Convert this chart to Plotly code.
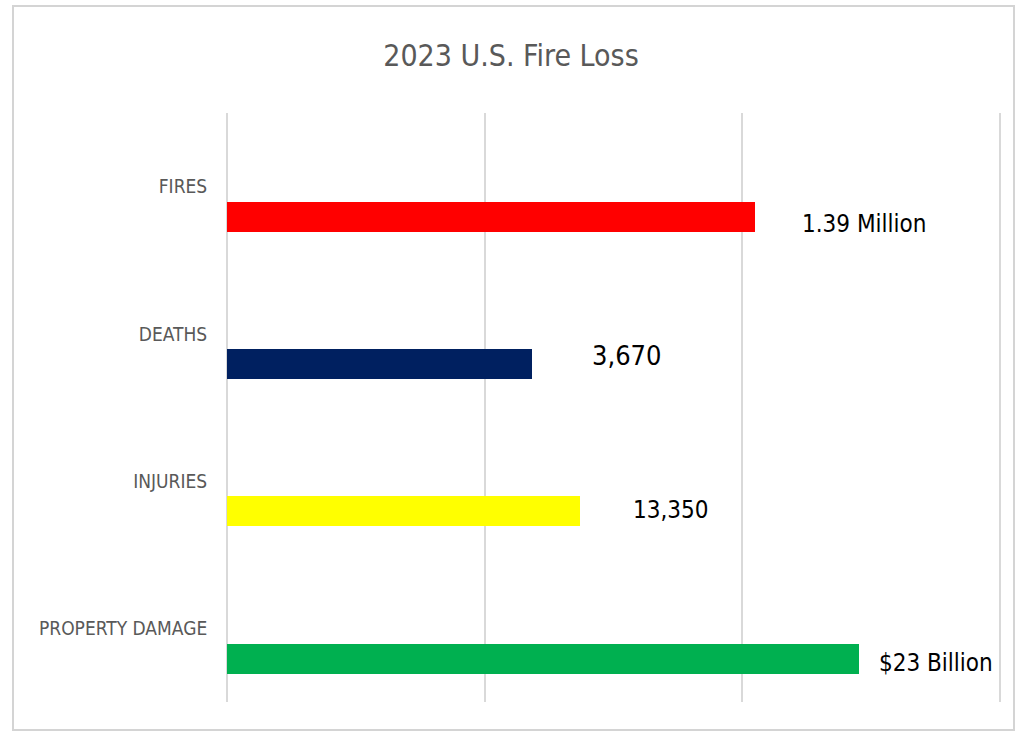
import plotly.graph_objects as go

categories = ["FIRES", "DEATHS", "INJURIES", "PROPERTY DAMAGE"]
values = [2.05, 1.185, 1.372, 2.453]
labels = ["1.39 Million", "3,670", "13,350", "$23 Billion"]
colors = ["#FF0000", "#002060", "#FFFF00", "#00B050"]
label_shift = [45, 58, 51, 18]
label_yshift = [-7, 9, 1, -4]
label_size = [24, 27, 24, 24]

XMAX = 3.02
W, H = 1022, 732
L, T, B = 227, 113, 30
pw = round(773 * XMAX / 3)
R = W - L - pw
ph = H - T - B
FONT = "Liberation Sans Narrow, DejaVu Sans Condensed, sans-serif"

fig = go.Figure()
fig.add_trace(go.Bar(
    y=categories, x=values, orientation="h",
    marker=dict(color=colors, line=dict(width=0)),
    width=0.205, offset=0.103, hoverinfo="skip",
))

for c, v, t, s, ys, fs in zip(categories, values, labels, label_shift, label_yshift, label_size):
    fig.add_annotation(
        x=v, y=c, text=t, showarrow=False, xanchor="left", yanchor="middle",
        xshift=s, yshift=ys - 0.205 * ph / 4,
        font=dict(family=FONT, size=fs, color="#000000"),
    )

# outer frame
fig.add_shape(
    type="rect", xref="paper", yref="paper",
    x0=(13 - L) / pw, x1=(1014 - L) / pw,
    y0=-(730 - (H - B)) / ph, y1=1 + (T - 6) / ph,
    line=dict(color="#D4D4D4", width=2), fillcolor="rgba(0,0,0,0)", layer="below",
)

fig.update_layout(
    width=W, height=H,
    margin=dict(l=L, r=R, t=T, b=B),
    paper_bgcolor="white", plot_bgcolor="white",
    showlegend=False,
    title=dict(text="2023 U.S. Fire Loss", x=0.5, xanchor="center",
               y=1 - 55 / H, yanchor="middle",
               font=dict(family=FONT, size=30, color="#595959")),
    xaxis=dict(range=[0, XMAX], dtick=1, showticklabels=False, showgrid=True,
               gridcolor="#D9D9D9", gridwidth=1.5, zeroline=True,
               zerolinecolor="#D9D9D9", zerolinewidth=1.5, showline=False, fixedrange=True),
    yaxis=dict(autorange="reversed", showgrid=False, zeroline=False, showline=False,
               ticks="outside", ticklen=15, tickcolor="rgba(0,0,0,0)",
               tickfont=dict(family=FONT, size=19, color="#595959")),
    bargap=0,
)

fig.write_html("out.html", config={"displayModeBar": False},
               post_script="document.body.style.margin='0';")
